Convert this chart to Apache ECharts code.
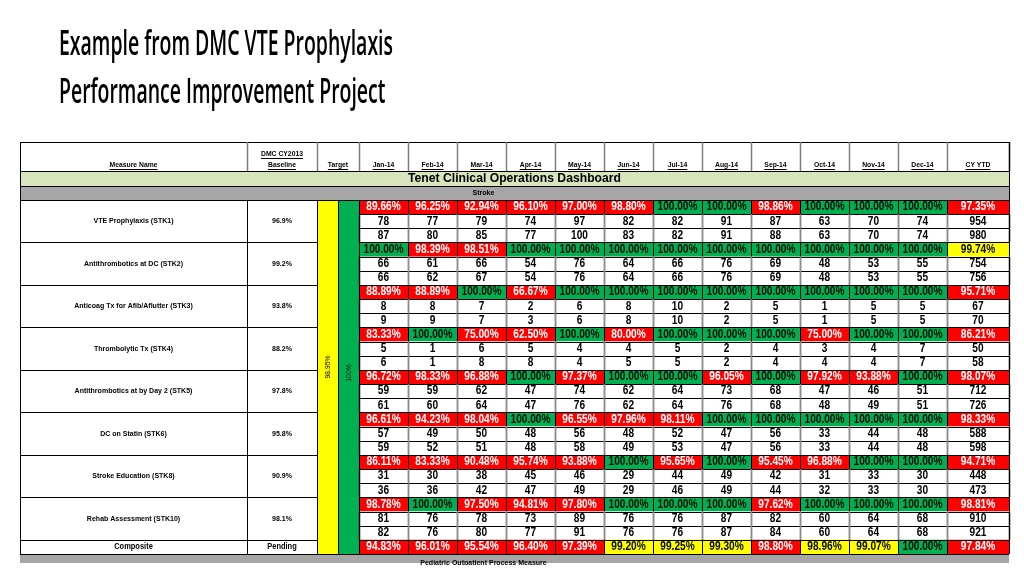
<!DOCTYPE html>
<html><head><meta charset="utf-8">
<script src="https://cdn.jsdelivr.net/npm/echarts@6/dist/echarts.min.js"></script>
<style>html,body{margin:0;padding:0;background:#fff}#c{width:1024px;height:576px}</style>
</head><body><div id="c"></div>
<script>
// ---------------- DATA ----------------
const titleLines = ['Example from DMC VTE Prophylaxis', 'Performance Improvement Project'];
const dashboardTitle = 'Tenet Clinical Operations Dashboard';
const sectionName = 'Stroke';
const nextSectionName = 'Pediatric Outpatient Process Measure';
const headerMeasure = 'Measure Name';
const headerBaseline = ['DMC CY2013', 'Baseline'];
const headerTarget = 'Target';
const periods = ['Jan-14','Feb-14','Mar-14','Apr-14','May-14','Jun-14','Jul-14','Aug-14','Sep-14','Oct-14','Nov-14','Dec-14','CY YTD'];
const measures = ['VTE Prophylaxis (STK1)','Antithrombotics at DC (STK2)','Anticoag Tx for Afib/Aflutter (STK3)','Thrombolytic Tx (STK4)','Antithrombotics at by Day 2 (STK5)','DC on Statin (STK6)','Stroke Education (STK8)','Rehab Assessment (STK10)'];
const baselines = ['96.9%','99.2%','93.8%','88.2%','97.8%','95.8%','90.9%','98.1%'];
const targetLow = '98.95%';
const targetHigh = '100%';
const targetLowValue = 98.95;
const rates = [
  [89.66,96.25,92.94,96.10,97.00,98.80,100,100,98.86,100,100,100,97.35],
  [100,98.39,98.51,100,100,100,100,100,100,100,100,100,99.74],
  [88.89,88.89,100,66.67,100,100,100,100,100,100,100,100,95.71],
  [83.33,100,75.00,62.50,100,80.00,100,100,100,75.00,100,100,86.21],
  [96.72,98.33,96.88,100,97.37,100,100,96.05,100,97.92,93.88,100,98.07],
  [96.61,94.23,98.04,100,96.55,97.96,98.11,100,100,100,100,100,98.33],
  [86.11,83.33,90.48,95.74,93.88,100,95.65,100,95.45,96.88,100,100,94.71],
  [98.78,100,97.50,94.81,97.80,100,100,100,97.62,100,100,100,98.81]
];
const numerators = [
  [78,77,79,74,97,82,82,91,87,63,70,74,954],
  [66,61,66,54,76,64,66,76,69,48,53,55,754],
  [8,8,7,2,6,8,10,2,5,1,5,5,67],
  [5,1,6,5,4,4,5,2,4,3,4,7,50],
  [59,59,62,47,74,62,64,73,68,47,46,51,712],
  [57,49,50,48,56,48,52,47,56,33,44,48,588],
  [31,30,38,45,46,29,44,49,42,31,33,30,448],
  [81,76,78,73,89,76,76,87,82,60,64,68,910]
];
const denominators = [
  [87,80,85,77,100,83,82,91,88,63,70,74,980],
  [66,62,67,54,76,64,66,76,69,48,53,55,756],
  [9,9,7,3,6,8,10,2,5,1,5,5,70],
  [6,1,8,8,4,5,5,2,4,4,4,7,58],
  [61,60,64,47,76,62,64,76,68,48,49,51,726],
  [59,52,51,48,58,49,53,47,56,33,44,48,598],
  [36,36,42,47,49,29,46,49,44,32,33,30,473],
  [82,76,80,77,91,76,76,87,84,60,64,68,921]
];
const compositeLabel = 'Composite';
const compositeBaseline = 'Pending';
const compositeRates = [94.83,96.01,95.54,96.40,97.39,99.20,99.25,99.30,98.80,98.96,99.07,100,97.84];

// ---------------- LAYOUT / STYLE ----------------
const FAM = 'Liberation Sans';
const colX = [20,247,317,338,359,408,457,506,555,604,653,702,751,800,849,898,947,1009];
const HEAD_TOP = 142, HEAD_BOT = 171, BAND_BOT = 186, ROW0 = 200, ROW_H = 14.16, BOTTOM_GRAY = 563;
const RED = '#ff0000', GREEN = '#00b050', YELLOW = '#ffff00', BAND = '#d8e4bc', GRAY = '#a6a6a6';

const mctx = document.createElement('canvas').getContext('2d');
function measure(text, size, weight, fam) {
  mctx.font = (weight || 'normal') + ' ' + size + 'px ' + (fam || FAM);
  return mctx.measureText(text).width;
}
// horizontal squeeze so that a sample string reaches the width seen in the reference
const fit = (sample, size, weight, w) => w / measure(sample, size, weight);
const SX_BIG = fit('100.00%', 12, 'bold', 40);
const SX_SMALL = fit('VTE Prophylaxis (STK1)', 8, 'bold', 80);
const SX_HEAD = fit('Measure Name', 8, 'bold', 48);
const SX_BAND = fit(dashboardTitle, 13.5, 'bold', 213);

function status(v) {
  if (v >= 100) return { fill: GREEN, color: '#0a0a0a' };
  if (v >= targetLowValue) return { fill: YELLOW, color: '#0a0a0a' };
  return { fill: RED, color: '#ffffff' };
}
const fmt = v => v.toFixed(2) + '%';
const txt = (t, o) => Object.assign({ t: t, size: 8, weight: 'bold', color: '#000', sx: SX_SMALL }, o || {});
const BIG = { size: 12, sx: SX_BIG };

const cells = [];
function add(c0, c1, y0, y1, o) { cells.push(Object.assign({ c0: c0, c1: c1, y0: y0, y1: y1 }, o)); }

// header
const HV = '#7f7f7f';
const H = (t, dy) => txt(t, { dy: dy, ul: true, sx: SX_HEAD });
add(0, 1, HEAD_TOP, HEAD_BOT, { fill: '#fff', lc: '#000', rc: HV, rw: 1.5, texts: [H(headerMeasure, 23)] });
add(1, 2, HEAD_TOP, HEAD_BOT, { fill: '#fff', lc: HV, rc: HV, rw: 1.5, texts: [H(headerBaseline[0], 12), H(headerBaseline[1], 23)] });
add(2, 4, HEAD_TOP, HEAD_BOT, { fill: '#fff', lc: HV, rc: HV, rw: 1.5, texts: [H(headerTarget, 23)] });
periods.forEach((p, j) => add(4 + j, 5 + j, HEAD_TOP, HEAD_BOT, { fill: '#fff', lc: HV, rc: j === 12 ? '#000' : HV, rw: 1.5, texts: [H(p, 23)] }));
// dashboard band
add(0, 17, HEAD_BOT, BAND_BOT, { fill: BAND, texts: [txt(dashboardTitle, { size: 13.5, sx: SX_BAND })] });
// section band
add(0, 17, BAND_BOT, ROW0, { fill: GRAY });
add(0, 16, BAND_BOT, ROW0, { noLines: true, texts: [txt(sectionName)] });
// target columns
const yEnd = ROW0 + 25 * ROW_H;
add(2, 3, ROW0, yEnd, { fill: YELLOW, texts: [txt(targetLow, { dy: 167, size: 7.5, weight: 'normal', sx: 0.9, rot: Math.PI / 2 })] });
add(3, 4, ROW0, yEnd, { fill: GREEN, texts: [txt(targetHigh, { dy: 173, size: 7.5, weight: 'normal', sx: 0.9, rot: Math.PI / 2 })] });
// measures
measures.forEach((name, m) => {
  const yA = ROW0 + 3 * m * ROW_H, yB = yA + 3 * ROW_H;
  add(0, 1, yA, yB, { fill: '#fff', texts: [txt(name)] });
  add(1, 2, yA, yB, { fill: '#fff', texts: [txt(baselines[m])] });
  for (let k = 0; k < 3; k++) {
    const y0 = yA + k * ROW_H, y1 = y0 + ROW_H;
    for (let j = 0; j < 13; j++) {
      if (k === 0) {
        const st = status(rates[m][j]);
        add(4 + j, 5 + j, y0, y1, { fill: st.fill, texts: [txt(fmt(rates[m][j]), Object.assign({ color: st.color }, BIG))] });
      } else {
        const val = k === 1 ? numerators[m][j] : denominators[m][j];
        add(4 + j, 5 + j, y0, y1, { fill: '#fff', lc: j === 0 ? '#000' : '#8c8c8c', rc: j === 12 ? '#000' : '#8c8c8c', lw: 1.5, rw: 1.5, texts: [txt(String(val), BIG)] });
      }
    }
  }
});
// composite
const yC = ROW0 + 24 * ROW_H;
add(0, 1, yC, yC + ROW_H, { fill: '#fff', texts: [txt(compositeLabel, { size: 8.5 })] });
add(1, 2, yC, yC + ROW_H, { fill: '#fff', texts: [txt(compositeBaseline, { size: 8.5 })] });
compositeRates.forEach((v, j) => {
  const st = status(v);
  add(4 + j, 5 + j, yC, yC + ROW_H, { fill: st.fill, texts: [txt(fmt(v), Object.assign({ color: st.color }, BIG))] });
});
// next section band (cut off at bottom)
add(0, 17, yEnd, BOTTOM_GRAY, { fill: GRAY, noLines: true, topLine: true });
add(0, 16, yEnd, BOTTOM_GRAY, { noLines: true, texts: [txt(nextSectionName, { dy: 8.5 })] });
add(0, 17, BOTTOM_GRAY + 2, 600, { fill: '#fff', noLines: true, cover: true });

function crisp(v) { return Math.round(v) + 0.5; }
function ln(x1, y1, x2, y2, c, w) {
  return { type: 'line', z2: 10, shape: { x1: x1, y1: y1, x2: x2, y2: y2 }, style: { stroke: c, lineWidth: w || 1 } };
}
function renderItem(params, api) {
  const c = cells[params.dataIndex];
  const p0 = api.coord([api.value(0), api.value(1)]);
  const p1 = api.coord([api.value(2), api.value(3)]);
  const x0 = p0[0], y0 = p0[1], x1 = p1[0], y1 = p1[1];
  const ch = [];
  const zb = c.cover ? 30 : 0;
  if (c.fill) ch.push({ type: 'rect', z2: zb, shape: { x: x0, y: y0, width: x1 - x0, height: y1 - y0 }, style: { fill: c.fill } });
  if (!c.noLines) {
    ch.push(ln(x0, crisp(y0), x1, crisp(y0), '#000', 1));
    ch.push(ln(x0, crisp(y1), x1, crisp(y1), '#000', 1));
    ch.push(ln(crisp(x0), y0, crisp(x0), y1, c.lc || '#000', c.lw || 1));
    ch.push(ln(crisp(x1), y0, crisp(x1), y1, c.rc || '#000', c.rw || 1));
  } else if (c.topLine) {
    ch.push(ln(x0, crisp(y0), x1, crisp(y0), '#000', 1));
  }
  (c.texts || []).forEach(t => {
    const cx = (x0 + x1) / 2;
    const cy = t.dy != null ? y0 + t.dy : (y0 + y1) / 2;
    ch.push({ type: 'text', z2: 20, x: cx, y: cy, scaleX: t.sx, rotation: t.rot || 0,
      style: { text: t.t, fill: t.color, fontSize: t.size, fontWeight: t.weight, fontFamily: FAM, align: 'center', verticalAlign: 'middle' } });
    if (t.ul) {
      const w = measure(t.t, t.size, t.weight) * t.sx;
      ch.push(ln(cx - w / 2, crisp(cy + t.size * 0.5), cx + w / 2, crisp(cy + t.size * 0.5), t.color, 1));
    }
  });
  return { type: 'group', children: ch };
}

const TITLE_FAM = 'Open Sans', TITLE_SIZE = 34, TITLE_WEIGHT = 600;
const titleScale = 334 / measure(titleLines[0], TITLE_SIZE, TITLE_WEIGHT, TITLE_FAM);

const chart = echarts.init(document.getElementById('c'), null, { renderer: 'canvas' });
chart.setOption({
  animation: false,
  backgroundColor: '#fff',
  grid: { left: 0, top: 0, right: 0, bottom: 0 },
  xAxis: { type: 'value', min: 0, max: 1024, show: false },
  yAxis: { type: 'value', min: 0, max: 576, inverse: true, show: false },
  graphic: titleLines.map((l, i) => ({
    type: 'text', x: 59, y: 45 + i * 48, scaleX: titleScale,
    style: { text: l, fontSize: TITLE_SIZE, fontWeight: TITLE_WEIGHT, fontFamily: TITLE_FAM, fill: '#000', verticalAlign: 'middle' }
  })),
  series: [{
    type: 'custom', clip: false, renderItem: renderItem,
    data: cells.map(c => [colX[c.c0], c.y0, colX[c.c1], c.y1])
  }]
});
</script></body></html>
